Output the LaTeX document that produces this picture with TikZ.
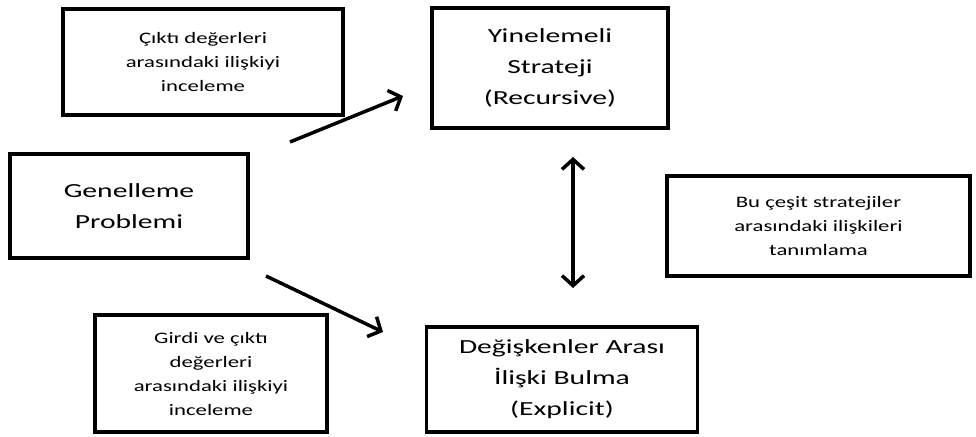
\documentclass[tikz,border=0pt]{standalone}
\usepackage{fontspec}
\setmainfont{Carlito}
\newfontfamily\smallfnt{Carlito}[FakeStretch=1.42]
\newfontfamily\bigfnt{Carlito}[FakeStretch=1.48]
\usetikzlibrary{arrows.meta}
\begin{document}
\begin{tikzpicture}[x=1pt,y=-1pt,
  box/.style={draw=black,line width=3.5pt,rectangle,align=center,inner sep=0pt,fill=white},
  small/.style={font=\smallfnt\fontsize{16}{24}\selectfont},
  big/.style={font=\bigfnt\fontsize{20}{31}\selectfont},
  arr/.style={line width=3.5pt,-{Straight Barb[length=10pt,width=22pt,line width=3.5pt]}},
  darr/.style={line width=3.5pt,{Straight Barb[length=10pt,width=22pt,line width=3.5pt]}-{Straight Barb[length=10pt,width=22pt,line width=3.5pt]}}]
\useasboundingbox (0,0) rectangle (976,436);
\node[box,small,minimum width=280pt,minimum height=106pt] (c1) at (203,62) {Çıktı değerleri\\arasındaki ilişkiyi\\inceleme};
\node[box,big,minimum width=236pt,minimum height=120pt] (rec) at (550,68) {Yinelemeli\\Strateji\\(Recursive)};
\node[box,big,minimum width=238pt,minimum height=104pt] (gen) at (129,206) {Genelleme\\Problemi};
\node[box,small,minimum width=303pt,minimum height=100pt] (bu) at (818.5,226) {Bu çeşit stratejiler\\arasındaki ilişkileri\\tanımlama};
\node[box,big,minimum width=271pt,minimum height=105pt] (exp) at (562,379.5) {Değişkenler Arası\\İlişki Bulma\\(Explicit)};
\node[box,small,minimum width=232pt,minimum height=117pt] (girdi) at (211,373.5) {Girdi ve çıktı\\değerleri\\arasındaki ilişkiyi\\inceleme};
\coordinate (a1s) at (290,142);
\coordinate (a1e) at (403,96);
\coordinate (a2s) at (266,276);
\coordinate (a2e) at (383,332);
\coordinate (a3s) at (573,157);
\coordinate (a3e) at (573,288);
\draw[arr] (a1s) -- (a1e);
\draw[arr] (a2s) -- (a2e);
\draw[darr] (a3s) -- (a3e);
\end{tikzpicture}
\end{document}
